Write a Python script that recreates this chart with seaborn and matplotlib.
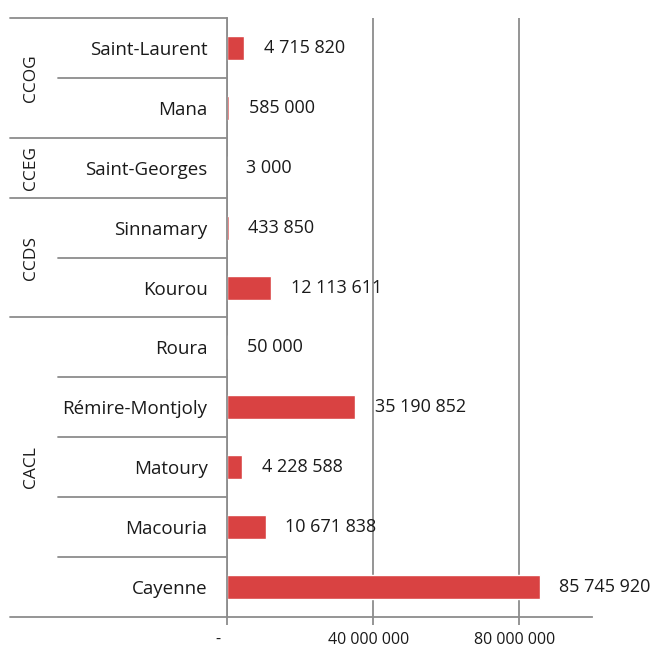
import matplotlib
matplotlib.use("Agg")
import matplotlib.pyplot as plt
import matplotlib.transforms as mtransforms
import seaborn as sns
import pandas as pd

# Investment per commune, grouped by intercommunality
communes = ["Saint-Laurent", "Mana", "Saint-Georges", "Sinnamary", "Kourou",
            "Roura", "Rémire-Montjoly", "Matoury", "Macouria", "Cayenne"]
montants = [4715820, 585000, 3000, 433850, 12113611,
            50000, 35190852, 4228588, 10671838, 85745920]
groupes = ["CCOG", "CCEG", "CCDS", "CACL"]
groupe_tailles = [2, 1, 2, 5]
xticks = [0, 40000000, 80000000]
xtick_labels = ["-", "40 000 000", "80 000 000"]

df = pd.DataFrame({"commune": communes, "montant": montants})

sns.set_style("white")
plt.rcParams["font.family"] = ["Open Sans", "DejaVu Sans"]

W, H = 660, 648
fig = plt.figure(figsize=(W / 100, H / 100), dpi=100)
x0, x1, y0, y1 = 227, 592, 18, 617
ax = fig.add_axes([x0 / W, 1 - y1 / H, (x1 - x0) / W, (y1 - y0) / H])

bar_color = "#D94242"
line_color = "#8C8C8C"
text_color = "#1a1a1a"

sns.barplot(data=df, x="montant", y="commune", orient="h", color=bar_color,
            width=0.4, saturation=1, ax=ax)

ax.set_xlim(0, 100000000)
ax.set_ylim(len(communes) - 0.5, -0.5)
ax.set_xlabel("")
ax.set_ylabel("")

# value labels
labels = [f"{v:,}".replace(",", " ") for v in montants]
ax.bar_label(ax.containers[0], labels=labels, padding=14, fontsize=13,
             color=text_color)

# grid and axes
ax.set_xticks(xticks)
ax.set_xticklabels(xtick_labels, fontsize=11.5, color=text_color)
ax.xaxis.grid(True, color=line_color, linewidth=1.3)
ax.set_axisbelow(True)
ax.tick_params(axis="x", length=6, width=1.3, color=line_color, pad=5,
               direction="out", bottom=True)
ax.tick_params(axis="y", length=0, pad=14, labelsize=13.5, labelcolor=text_color)
for s in ["top", "right"]:
    ax.spines[s].set_visible(False)
for s in ["left", "bottom"]:
    ax.spines[s].set_color(line_color)
    ax.spines[s].set_linewidth(1.3)

# accounting-style tick labels sit slightly left of their ticks
for lab, dx in zip(ax.get_xticklabels(), [-9, -4, -4]):
    lab.set_transform(lab.get_transform() +
                      mtransforms.ScaledTranslation(dx / 100, 0, fig.dpi_scale_trans))

# multi-level category axis on the left
trans = ax.get_yaxis_transform()
x_outer = (10 - x0) / (x1 - x0)
x_inner = (58 - x0) / (x1 - x0)
x_group = (31 - x0) / (x1 - x0)

start = 0
ax.plot([x_outer, 0], [-0.5, -0.5], transform=trans, color=line_color,
        linewidth=1.3, clip_on=False)
for g, n in zip(groupes, groupe_tailles):
    end = start + n
    ax.plot([x_outer, 0], [end - 0.5, end - 0.5], transform=trans,
            color=line_color, linewidth=1.3, clip_on=False)
    for k in range(start + 1, end):
        ax.plot([x_inner, 0], [k - 0.5, k - 0.5], transform=trans,
                color=line_color, linewidth=1.3, clip_on=False)
    ax.text(x_group, (start + end - 1) / 2, g, transform=trans, rotation=90,
            ha="center", va="center", fontsize=12.5, color=text_color)
    start = end

fig.savefig("out.png", dpi=100)
